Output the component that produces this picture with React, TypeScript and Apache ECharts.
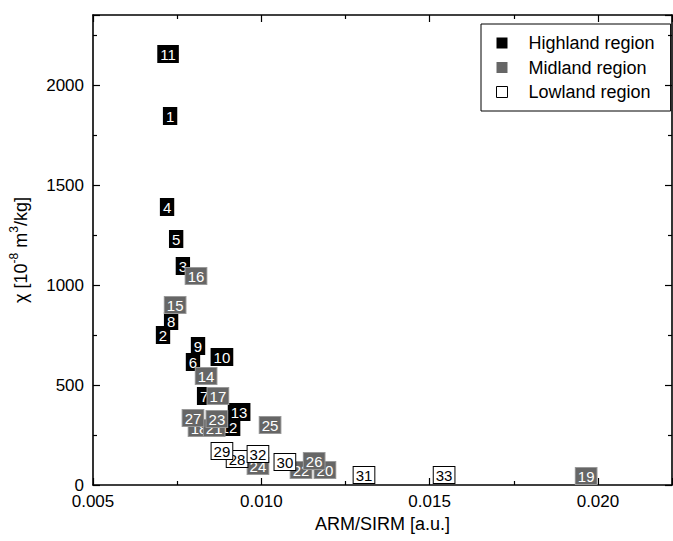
import React, { useEffect, useRef } from "react";
import * as echarts from "echarts";

// [ARM/SIRM, chi, sample number]
const highland: [number, number, string][] = [
  [0.00729, 1845, "1"],
  [0.00708, 750, "2"],
  [0.00767, 1095, "3"],
  [0.0072, 1390, "4"],
  [0.00747, 1230, "5"],
  [0.00797, 615, "6"],
  [0.0083, 445, "7"],
  [0.00732, 820, "8"],
  [0.00812, 695, "9"],
  [0.00883, 640, "10"],
  [0.00723, 2155, "11"],
  [0.00904, 290, "12"],
  [0.00934, 365, "13"],
];
const midland: [number, number, string][] = [
  [0.00836, 545, "14"],
  [0.00744, 900, "15"],
  [0.00806, 1045, "16"],
  [0.00871, 445, "17"],
  [0.00815, 285, "18"],
  [0.01965, 45, "19"],
  [0.01189, 75, "20"],
  [0.0086, 285, "21"],
  [0.01118, 75, "22"],
  [0.00868, 330, "23"],
  [0.0099, 95, "24"],
  [0.01026, 300, "25"],
  [0.01157, 120, "26"],
  [0.00797, 335, "27"],
];
const lowland: [number, number, string][] = [
  [0.00928, 130, "28"],
  [0.00883, 170, "29"],
  [0.0107, 115, "30"],
  [0.01305, 50, "31"],
  [0.0099, 155, "32"],
  [0.01543, 50, "33"],
];

const seriesNames = ["Highland region", "Midland region", "Lowland region"];
const xTicks = { min: 0.005, max: 0.0222, interval: 0.005 };
const yTicks = { min: 0, max: 2350, interval: 500 };

const FONT = "'Liberation Sans', Arial, sans-serif";

export default function App() {
  const ref = useRef<HTMLDivElement>(null);
  useEffect(() => {
    if (!ref.current) return;
    const chart = echarts.init(ref.current, undefined, { renderer: "svg" });
    const mkLabel = (bg: string, fg: string, border: string) => ({
      show: true,
      position: "inside",
      formatter: (p: any) => p.data[2],
      backgroundColor: bg,
      color: fg,
      opacity: 1,
      borderColor: border,
      borderWidth: 1,
      padding: [1, 2, 0, 2],
      fontSize: 15,
      lineHeight: 15,
      fontFamily: FONT,
    });
    const axisCommon = {
      axisLine: { show: true, onZero: false, lineStyle: { color: "#000", width: 1.6 } },
      axisTick: { show: true, inside: true, length: 7, lineStyle: { color: "#000", width: 1.2 } },
      minorTick: { show: true, splitNumber: 2, length: 4, lineStyle: { color: "#000", width: 1.2 } },
      splitLine: { show: false },
    };
    chart.setOption({
      animation: false,
      backgroundColor: "#fff",
      grid: { left: 93, right: 1, top: 15, bottom: 56 },
      legend: {
        orient: "vertical",
        left: 481,
        top: 24,
        padding: [10, 16, 10, 15],
        itemGap: 6.5,
        itemWidth: 11,
        itemHeight: 11,
        borderColor: "#000",
        borderWidth: 1,
        icon: "rect",
        textStyle: { fontSize: 18, fontFamily: FONT, color: "#000", padding: [0, 0, 0, 16] },
        data: [
          { name: seriesNames[0], itemStyle: { color: "#000", opacity: 1 } },
          { name: seriesNames[1], itemStyle: { color: "#666", opacity: 1 } },
          { name: seriesNames[2], itemStyle: { color: "#fff", borderColor: "#000", borderWidth: 1, opacity: 1 } },
        ],
      },
      xAxis: [
        {
          type: "value",
          min: xTicks.min,
          max: xTicks.max,
          interval: xTicks.interval,
          position: "bottom",
          name: "ARM/SIRM [a.u.]",
          nameLocation: "middle",
          nameGap: 28,
          nameTextStyle: { fontSize: 18, fontFamily: FONT, color: "#000", verticalAlign: "top" },
          axisLabel: {
            fontSize: 17,
            fontFamily: FONT,
            color: "#000",
            margin: 8,
            showMaxLabel: false,
            formatter: (v: number) => v.toFixed(3),
          },
          ...axisCommon,
        },
        {
          type: "value",
          min: xTicks.min,
          max: xTicks.max,
          interval: xTicks.interval,
          position: "top",
          axisLabel: { show: false },
          ...axisCommon,
        },
      ],
      yAxis: [
        {
          type: "value",
          min: yTicks.min,
          max: yTicks.max,
          interval: yTicks.interval,
          position: "left",
          name: "{n|χ [10}{s|-8}{n| m}{s|3}{n|/kg]}",
          nameLocation: "middle",
          nameGap: 63,
          nameTextStyle: {
            fontSize: 18,
            fontFamily: FONT,
            color: "#000",
            rich: {
              n: { fontSize: 18, fontFamily: FONT, color: "#000", lineHeight: 22, verticalAlign: "bottom" },
              s: { fontSize: 12, fontFamily: FONT, color: "#000", lineHeight: 22, verticalAlign: "top" },
            },
          },
          axisLabel: {
            fontSize: 17,
            fontFamily: FONT,
            color: "#000",
            margin: 9,
            showMaxLabel: false,
            formatter: (v: number) => String(v),
          },
          ...axisCommon,
        },
        {
          type: "value",
          min: yTicks.min,
          max: yTicks.max,
          interval: yTicks.interval,
          position: "right",
          axisLabel: { show: false },
          ...axisCommon,
        },
      ],
      series: [
        {
          name: seriesNames[0],
          type: "scatter",
          data: highland,
          symbol: "rect",
          symbolSize: 1,
          itemStyle: { color: "#000", opacity: 1 },
          label: mkLabel("#000", "#fff", "#000"),
          z: 2,
        },
        {
          name: seriesNames[1],
          type: "scatter",
          data: midland,
          symbol: "rect",
          symbolSize: 1,
          itemStyle: { color: "#666", opacity: 1 },
          label: mkLabel("#666", "#fff", "#999"),
          z: 3,
        },
        {
          name: seriesNames[2],
          type: "scatter",
          data: lowland,
          symbol: "rect",
          symbolSize: 1,
          itemStyle: { color: "#fff", borderColor: "#000", borderWidth: 1, opacity: 1 },
          label: mkLabel("#fff", "#000", "#000"),
          z: 4,
        },
      ],
    });
    return () => chart.dispose();
  }, []);
  return (
    <div
      ref={ref}
      style={{ width: 673, height: 541, position: "absolute", left: 0, top: 0 }}
    />
  );
}
